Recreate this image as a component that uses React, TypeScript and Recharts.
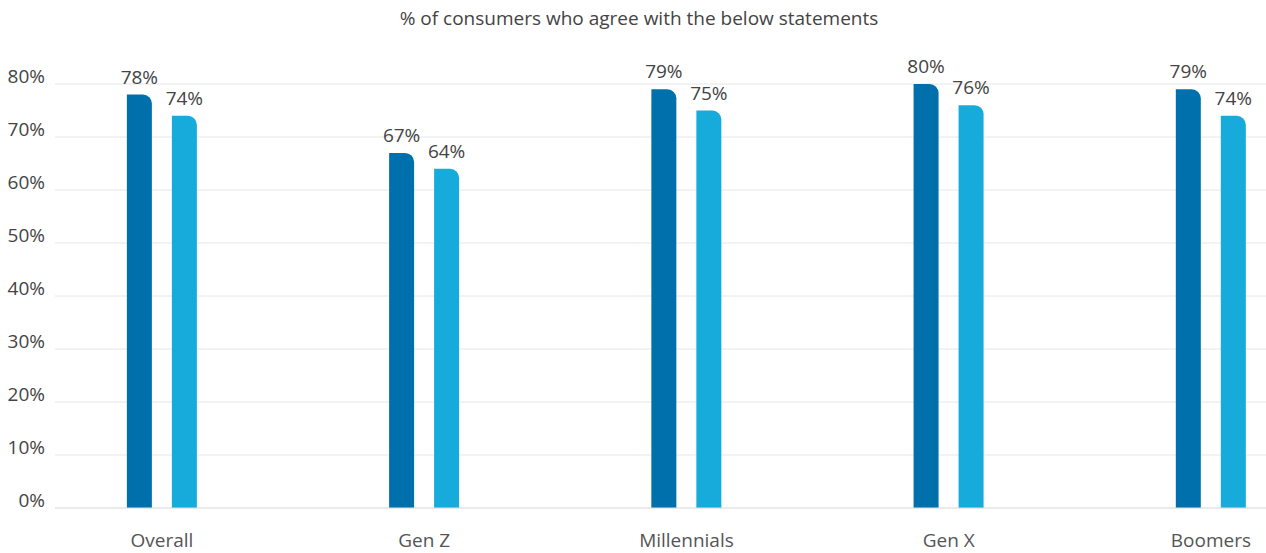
import { BarChart, Bar, XAxis, YAxis, CartesianGrid, LabelList } from 'recharts';

const categories = ['Overall', 'Gen Z', 'Millennials', 'Gen X', 'Boomers'];
const seriesA = [78, 67, 79, 80, 79];
const seriesB = [74, 64, 75, 76, 74];
const yTicks = [0, 10, 20, 30, 40, 50, 60, 70, 80];

const DARK = '#0070ad';
const LIGHT = '#17abdb';
const FONT = '"Open Sans", sans-serif';
const FS = 19;

const data = categories.map((name, i) => ({ idx: i, name, a: seriesA[i], b: seriesB[i] }));

const pct = (v: number) => `${v}%`;

export default function App() {
  return (
    <div style={{ position: 'absolute', left: 0, top: 0, width: 1266, height: 553, background: '#fff', fontFamily: FONT }}>
      <div
        style={{
          position: 'absolute',
          top: 5,
          left: 0,
          width: 1278,
          textAlign: 'center',
          fontSize: FS,
          color: '#444',
        }}
      >
        % of consumers who agree with the below statements
      </div>
      <BarChart
        width={1266}
        height={553}
        data={data}
        margin={{ top: 84, right: 0, bottom: 15, left: 0 }}
        barGap={20}
        barSize={25}
      >
        <CartesianGrid vertical={false} stroke="#e6e6e6" />
        <XAxis
          dataKey="idx"
          type="number"
          domain={[-0.408, 4.21]}
          ticks={[0, 1, 2, 3, 4]}
          tickFormatter={(v: number) => categories[v]}
          axisLine={{ stroke: '#e0e0e0' }}
          tickLine={false}
          tickMargin={20}
          tick={{ fill: '#555', fontSize: FS, fontFamily: FONT }}
          allowDataOverflow
        />
        <YAxis
          domain={[0, 80]}
          ticks={yTicks}
          tickFormatter={pct}
          width={55}
          axisLine={false}
          tickLine={false}
          tickMargin={4}
          tick={{ fill: '#444', fontSize: FS, fontFamily: FONT, dy: -8 }}
        />
        <Bar dataKey="a" fill={DARK} radius={[0, 9, 0, 0]} isAnimationActive={false}>
          <LabelList dataKey="a" position="top" offset={11} formatter={pct} fill="#444" fontSize={FS} fontFamily={FONT} />
        </Bar>
        <Bar dataKey="b" fill={LIGHT} radius={[0, 9, 0, 0]} isAnimationActive={false}>
          <LabelList dataKey="b" position="top" offset={11} formatter={pct} fill="#444" fontSize={FS} fontFamily={FONT} />
        </Bar>
      </BarChart>
    </div>
  );
}
